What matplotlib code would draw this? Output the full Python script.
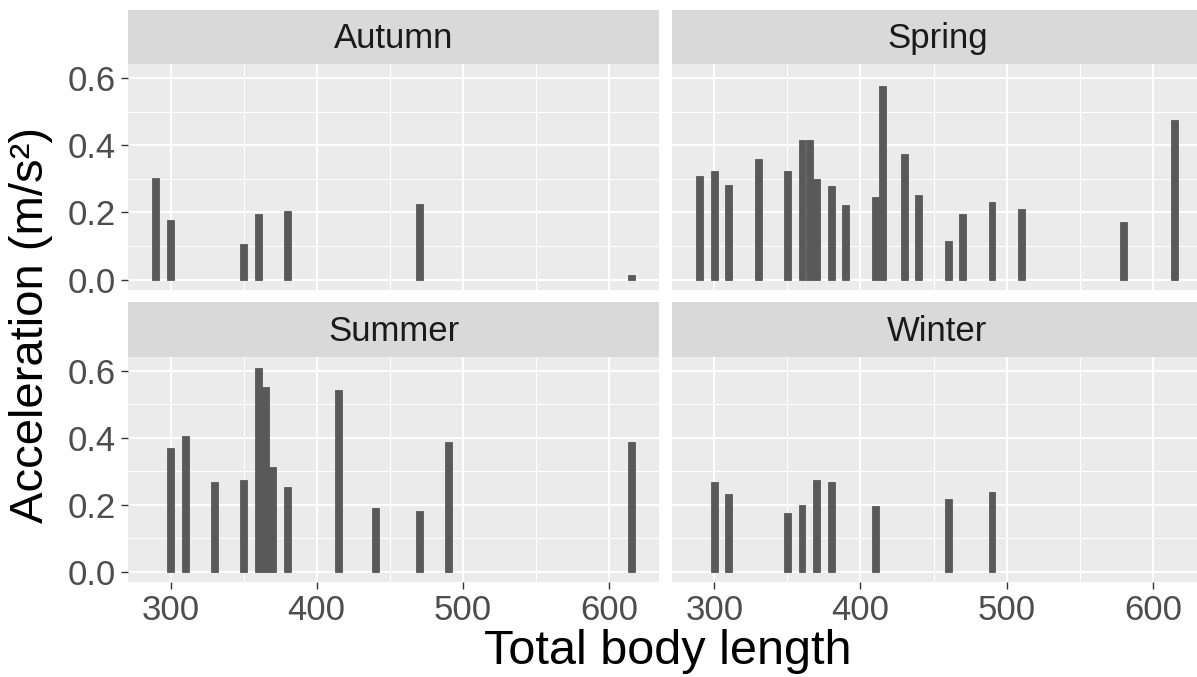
import matplotlib
matplotlib.use("Agg")
import matplotlib.pyplot as plt

plt.rcParams['font.family'] = ['Liberation Sans', 'DejaVu Sans']

# values
autumn_x = [290, 300, 350, 360, 380, 470, 615]
autumn_y = [0.303, 0.179, 0.107, 0.194, 0.205, 0.226, 0.015]

spring_x = [290, 300, 310, 330, 350, 360, 365, 370, 380, 390, 410, 415, 430, 440, 460, 470, 490, 510, 580, 615]
spring_y = [0.308, 0.324, 0.283, 0.360, 0.324, 0.417, 0.417, 0.299, 0.278, 0.221, 0.247, 0.577,
            0.375, 0.252, 0.116, 0.194, 0.231, 0.210, 0.173, 0.474]

summer_x = [300, 310, 330, 350, 360, 365, 370, 380, 415, 440, 470, 490, 615]
summer_y = [0.370, 0.406, 0.267, 0.273, 0.607, 0.550, 0.313, 0.252, 0.541, 0.190, 0.180, 0.386, 0.386]

winter_x = [300, 310, 350, 360, 370, 380, 410, 460, 490]
winter_y = [0.267, 0.231, 0.175, 0.200, 0.273, 0.267, 0.195, 0.216, 0.237]

panels = [("Autumn", autumn_x, autumn_y), ("Spring", spring_x, spring_y),
          ("Summer", summer_x, summer_y), ("Winter", winter_x, winter_y)]

W, H = 1197, 677
fig = plt.figure(figsize=(W / 100, H / 100), dpi=100)

# panel boxes in pixels (left, top, right, bottom)
pw = 531.3
cols = [128, 671.7]
rows = [(64, 290), (356.7, 582)]
strip_h = 54.4

bar_col = "#595959"
for i, (name, xs, ys) in enumerate(panels):
    r, c = divmod(i, 2)
    left = cols[c]
    top, bot = rows[r]
    ax = fig.add_axes([left / W, (H - bot) / H, pw / W, (bot - top) / H])
    ax.set_facecolor("#EBEBEB")
    ax.bar(xs, ys, width=4.7, color=bar_col, edgecolor=bar_col, linewidth=0.6, zorder=3)
    ax.set_xlim(270.9, 634.3)
    ax.set_ylim(-0.0305, 0.6415)
    ax.set_xticks([300, 400, 500, 600])
    ax.set_xticks([350, 450, 550], minor=True)
    ax.set_yticks([0.0, 0.2, 0.4, 0.6])
    ax.set_yticks([0.1, 0.3, 0.5], minor=True)
    ax.grid(which="major", color="white", linewidth=1.4, zorder=0)
    ax.grid(which="minor", color="white", linewidth=0.7, zorder=0)
    ax.set_axisbelow(True)
    for s in ax.spines.values():
        s.set_visible(False)
    ax.tick_params(which="minor", length=0)
    ax.tick_params(which="major", length=4.8, width=1.0, color="#333333",
                   labelsize=25, labelcolor="#4D4D4D", pad=4)
    if c == 0:
        ax.set_yticklabels(["0.0", "0.2", "0.4", "0.6"])
    else:
        ax.tick_params(axis="y", length=0, labelleft=False)
    if r == 0:
        ax.tick_params(axis="x", length=0, labelbottom=False)
    else:
        ax.set_xticklabels(["300", "400", "500", "600"])

    # facet strip
    sax = fig.add_axes([left / W, (H - top) / H, pw / W, strip_h / H])
    sax.set_facecolor("#D9D9D9")
    sax.set_xticks([])
    sax.set_yticks([])
    for s in sax.spines.values():
        s.set_visible(False)
    sax.text(0.5, 0.47, name, ha="center", va="center", fontsize=25,
             color="#1A1A1A", transform=sax.transAxes)

fig.text(668 / W, (H - 664) / H, "Total body length", ha="center", va="baseline",
         fontsize=35, color="black")
fig.text(31 / W, (H - 325) / H, "Acceleration (m/s²)", ha="center", va="center",
         rotation=90, fontsize=34, color="black")

fig.savefig("out.png", dpi=100)
